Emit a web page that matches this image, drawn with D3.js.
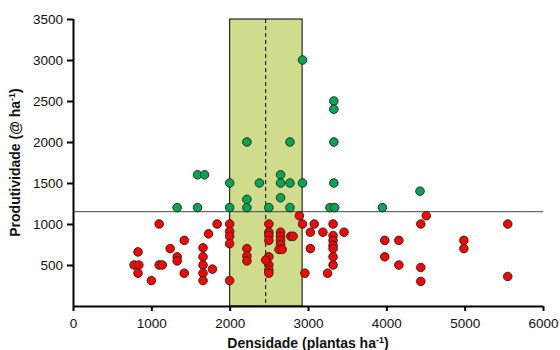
<!DOCTYPE html>
<html>
<head>
<meta charset="utf-8">
<script src="https://cdn.jsdelivr.net/npm/d3@7"></script>
<style>
  body { margin: 0; background: #fff; }
  svg text { font-family: "Liberation Sans", Arial, Helvetica, sans-serif; }
</style>
</head>
<body>
<div id="chart"></div>
<script>
// Densidade x Produtividade (points above / below the reference line)
const xTicks = [0, 1000, 2000, 3000, 4000, 5000, 6000];
const yTicks = [500, 1000, 1500, 2000, 2500, 3000, 3500];
const bandRange = [2000, 2925];
const bandMean = 2460;
const refLine = 1150;

const greenPoints = [
  [1330, 1200], [1590, 1200], [1590, 1600], [1680, 1600], [2000, 1500], [2000, 1200],
  [2220, 2000], [2220, 1300], [2220, 1200], [2380, 1500], [2500, 1200], [2650, 1600],
  [2650, 1500], [2650, 1320], [2770, 2000], [2770, 1500], [2770, 1200], [2930, 3000],
  [2930, 1500], [3280, 1200], [3340, 1200], [3330, 2500], [3330, 2400], [3330, 2000],
  [3330, 1500], [3950, 1200], [4430, 1400]
];

const redPoints = [
  [780, 500], [840, 500], [830, 660], [830, 400], [1000, 310], [1100, 1000], [1100, 500],
  [1140, 500], [1240, 700], [1330, 600], [1330, 550], [1420, 800], [1420, 400],
  [1660, 710], [1660, 600], [1660, 500], [1660, 400], [1660, 310], [1780, 450],
  [1730, 880], [1840, 1000],
  [2000, 1000], [2000, 910], [2000, 850], [2000, 760], [2000, 310],
  [2220, 700], [2220, 610], [2220, 550],
  [2500, 1000], [2500, 900], [2500, 860], [2500, 800], [2500, 600], [2500, 500],
  [2500, 440], [2500, 400], [2460, 560],
  [2650, 900], [2650, 850], [2650, 800], [2650, 750], [2630, 690], [2670, 690],
  [2780, 850], [2810, 850],
  [2890, 1100], [2930, 1000], [3080, 1000], [3030, 900], [3030, 700], [2960, 400],
  [3190, 900], [3250, 400], [3460, 900],
  [3320, 1000], [3320, 860], [3320, 800], [3320, 740], [3320, 700], [3320, 600], [3320, 500],
  [3980, 800], [4160, 800], [3980, 600], [4160, 500], [4440, 1000], [4510, 1100],
  [4440, 470], [4440, 300], [4990, 800], [4990, 700], [5550, 1000], [5550, 360]
];

const width = 560, height = 350;
const margin = { top: 19, right: 17, bottom: 44, left: 73 };

const svg = d3.select('#chart').append('svg')
  .attr('width', width)
  .attr('height', height);

const x = d3.scaleLinear().domain([0, 6000]).range([margin.left, width - margin.right]);
const y = d3.scaleLinear().domain([0, 3500]).range([height - margin.bottom, margin.top]);

// shaded band
svg.append('rect')
  .attr('x', x(bandRange[0]))
  .attr('y', y(3500))
  .attr('width', x(bandRange[1]) - x(bandRange[0]))
  .attr('height', y(0) - y(3500))
  .attr('fill', '#cedc8c')
  .attr('stroke', '#000')
  .attr('stroke-width', 1);

svg.append('line')
  .attr('x1', x(bandMean)).attr('x2', x(bandMean))
  .attr('y1', y(3500)).attr('y2', y(0))
  .attr('stroke', '#000')
  .attr('stroke-width', 1)
  .attr('stroke-dasharray', '4,3');

svg.append('line')
  .attr('x1', x(0)).attr('x2', x(6000))
  .attr('y1', y(refLine)).attr('y2', y(refLine))
  .attr('stroke', '#444')
  .attr('stroke-width', 1);

// points
const drawPoints = (data, color) => {
  svg.append('g')
    .selectAll('circle')
    .data(data)
    .join('circle')
    .attr('cx', d => x(d[0]))
    .attr('cy', d => y(d[1]))
    .attr('r', 4.3)
    .attr('fill', color)
    .attr('stroke', '#222')
    .attr('stroke-width', 0.9);
};
drawPoints(greenPoints, '#00a651');
drawPoints(redPoints, '#ff0000');

// axes
const xAxis = svg.append('g')
  .attr('transform', `translate(0,${y(0)})`)
  .call(d3.axisBottom(x).tickValues(xTicks).tickFormat(d3.format('d')).tickSize(5).tickPadding(7));
const yAxis = svg.append('g')
  .attr('transform', `translate(${x(0)},0)`)
  .call(d3.axisLeft(y).tickValues(yTicks).tickFormat(d3.format('d')).tickSize(6).tickPadding(4));

[xAxis, yAxis].forEach(g => {
  g.attr('font-size', null).attr('font-family', null);
  g.select('.domain').attr('stroke', '#000').attr('stroke-width', 2);
  g.selectAll('.tick line').attr('stroke', '#000').attr('stroke-width', 2);
  g.selectAll('.tick text')
    .style('font-size', '13.5px')
    .attr('fill', '#111');
});
xAxis.select('.domain').attr('d', `M${x(0)},0.5H${x(6000)}`);
yAxis.select('.domain').attr('d', `M0.5,${y(0)}V${y(3500)}`);

// axis titles
const xTitle = svg.append('text')
  .attr('x', (x(0) + x(6000)) / 2)
  .attr('y', 348)
  .attr('text-anchor', 'middle')
  .style('font-size', '14px')
  .attr('font-weight', 'bold')
  .attr('fill', '#111');
xTitle.append('tspan').text('Densidade (plantas ha');
xTitle.append('tspan').style('font-size', '9px').attr('dy', -5).text('-1');
xTitle.append('tspan').attr('dy', 5).text(')');

const yTitle = svg.append('text')
  .attr('transform', `translate(20,${(y(0) + y(3500)) / 2}) rotate(-90)`)
  .attr('text-anchor', 'middle')
  .style('font-size', '14px')
  .attr('font-weight', 'bold')
  .attr('fill', '#111');
yTitle.append('tspan').text('Produtividade (@ ha');
yTitle.append('tspan').style('font-size', '9px').attr('dy', -5).text('-1');
yTitle.append('tspan').attr('dy', 5).text(')');
</script>
</body>
</html>
